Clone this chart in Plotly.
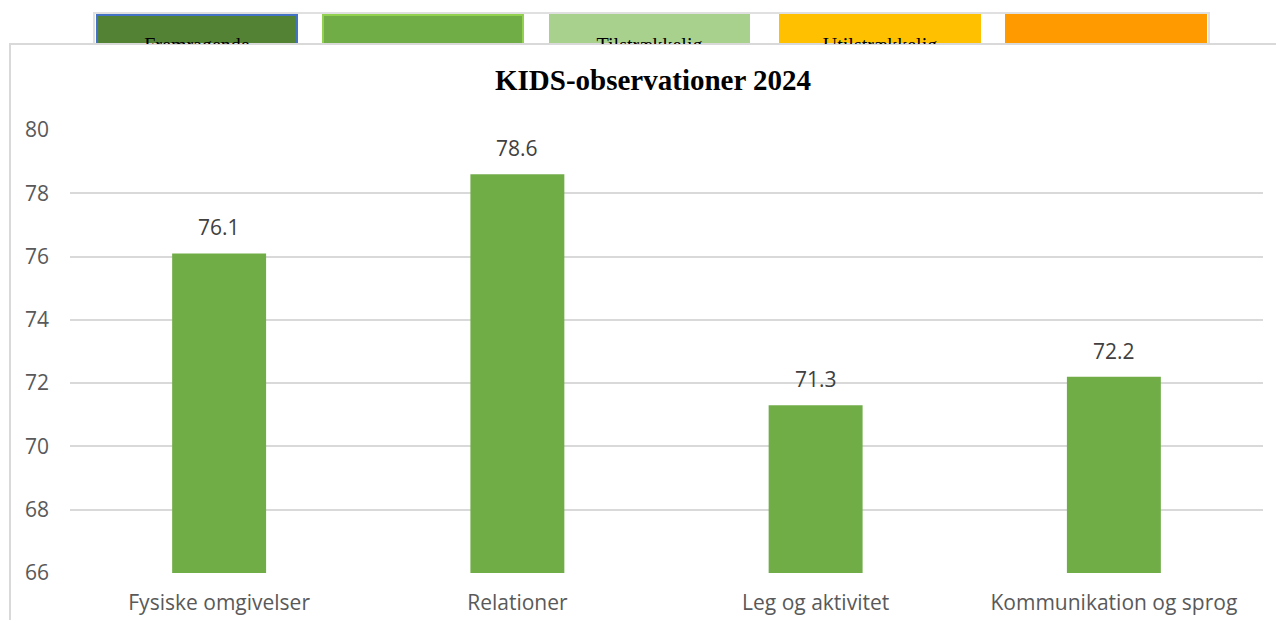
import plotly.graph_objects as go

categories = ["Fysiske omgivelser", "Relationer", "Leg og aktivitet", "Kommunikation og sprog"]
values = [76.1, 78.6, 71.3, 72.2]
y_ticks = [66, 68, 70, 72, 74, 76, 78, 80]

legend_labels = ["Fremragende", "", "Tilstrækkelig", "Utilstrækkelig", ""]
legend_colors = ["#548235", "#70AD47", "#A9D18E", "#FFC000", "#FF9A00"]
legend_borders = ["#4472C4", "#92D050", "#A9D18E", "#FFC000", "#FF9A00"]
legend_x0 = [97, 323, 550, 780, 1006]
legend_x1 = [297, 523, 749, 980, 1206]

# page is shown with an 8px body margin; build in page pixels and shift
OFF = 8
W, H = 1268, 612
PL, PR, PT, PB = 70, 1263, 130, 573

def px(x):
    return (x - OFF) / W

def py(y):
    return 1 - (y - OFF) / H

fig = go.Figure()
fig.add_trace(go.Bar(
    x=categories, y=values, marker_color="#70AD47", marker_line_width=0,
    xaxis="x", yaxis="y", showlegend=False, hoverinfo="skip"))

# clipped legend texts at top
fig.add_trace(go.Scatter(
    x=[(a + b) / 2 for a, b in zip(legend_x0, legend_x1)],
    y=[46.5] * len(legend_labels),
    text=legend_labels, mode="text", cliponaxis=True,
    textfont=dict(family="Liberation Serif", size=20, color="#000000"),
    xaxis="x2", yaxis="y2", showlegend=False, hoverinfo="skip"))

shapes = []
shapes.append(dict(type="rect", xref="paper", yref="paper",
                   x0=px(94), x1=px(1209), y0=py(44), y1=py(13),
                   line=dict(color="#E0E0E0", width=2), fillcolor="white", layer="below"))
for x0, x1, c, bc in zip(legend_x0, legend_x1, legend_colors, legend_borders):
    shapes.append(dict(type="rect", xref="paper", yref="paper",
                       x0=px(x0), x1=px(x1), y0=py(44), y1=py(15),
                       line=dict(color=bc, width=2), fillcolor=c, layer="below"))
shapes.append(dict(type="rect", xref="paper", yref="paper",
                   x0=px(10), x1=px(1320), y0=py(660), y1=py(44),
                   line=dict(color="#D9D9D9", width=2), fillcolor="white", layer="below"))

annotations = [dict(x=c, y=v, xref="x", yref="y", text=f"{v:.1f}", showarrow=False,
                    yanchor="bottom", yshift=10,
                    font=dict(family="Open Sans", size=21, color="#404040"))
               for c, v in zip(categories, values)]
annotations.append(dict(x=px(653), y=py(80), xref="paper", yref="paper",
                        text="<b>KIDS-observationer 2024</b>", showarrow=False,
                        xanchor="center", yanchor="middle",
                        font=dict(family="Liberation Serif", size=29, color="#000000")))

fig.update_layout(
    width=W, height=H,
    margin=dict(l=0, r=0, t=0, b=0, pad=0),
    paper_bgcolor="white", plot_bgcolor="rgba(0,0,0,0)",
    bargap=0.685,
    showlegend=False,
    shapes=shapes,
    annotations=annotations,
    xaxis=dict(domain=[px(PL), px(PR)], showgrid=False, zeroline=False, showline=False,
               ticks="", ticklabelstandoff=15, automargin=False,
               tickfont=dict(family="Open Sans", size=21, color="#595959")),
    yaxis=dict(domain=[py(PB), py(PT)], range=[66, 80], tickvals=y_ticks,
               showgrid=True, gridcolor="#D9D9D9", gridwidth=2, zeroline=False,
               showline=False, ticks="", ticklabelstandoff=20, automargin=False,
               tickfont=dict(family="Open Sans", size=21, color="#595959")),
    xaxis2=dict(domain=[0, 1], range=[OFF, W + OFF], visible=False, anchor="y2", automargin=False),
    yaxis2=dict(domain=[py(44), 1], range=[44, OFF], visible=False, anchor="x2", automargin=False),
)

fig.write_html("out.html")
